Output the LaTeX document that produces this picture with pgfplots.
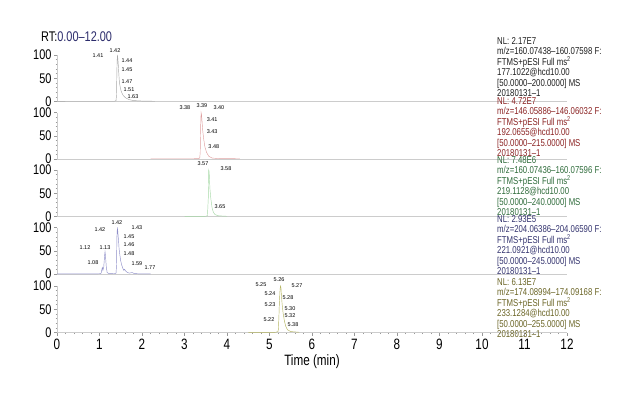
\documentclass[border=0pt]{standalone}
\usepackage{fontspec}
\setmainfont{Liberation Sans}[FakeStretch=0.78]
\newfontfamily\pkfont{Liberation Sans}
\usepackage{pgfplots}
\pgfplotsset{compat=1.18}
\definecolor{tA}{HTML}{1E1E1E}
\definecolor{tB}{HTML}{8B2323}
\definecolor{tC}{HTML}{2E6B3A}
\definecolor{tD}{HTML}{33336E}
\definecolor{tE}{HTML}{6B6526}
\definecolor{lA}{HTML}{A8A8A8}
\definecolor{lB}{HTML}{DFA0A0}
\definecolor{lC}{HTML}{A6D8A6}
\definecolor{lD}{HTML}{8E8EC8}
\definecolor{lE}{HTML}{B4B460}
\definecolor{rtblue}{HTML}{2B2B6B}
\tikzset{pk/.style={font=\pkfont\fontsize{5.5}{5.5}\selectfont, inner sep=0pt, text=black}}
\pgfplotsset{chrom/.style={
  scale only axis, width=510pt, height=46.5pt,
  xmin=0, xmax=12, ymin=0, ymax=100,
  axis x line*=bottom, axis y line*=left, clip=false,
  anchor=south west,
  ytick={0,50,100}, minor y tick num=4,
  xtick=\empty,
  axis line style={black!20, line width=0.6pt},
  tick style={black!40, line width=0.4pt},
  major tick length=3pt, minor tick length=1.5pt, tick align=outside,
  y tick label style={font=\fontsize{14}{14}\selectfont, xshift=1pt},
  /pgf/number format/assume math mode=true,
}}
\newcommand{\infoblock}[8]{%
  \path[every node/.style={anchor=base west, inner sep=0pt, text=#2, font=\fontsize{10}{10}\selectfont}]
    (497pt,#1) node {#3}
    (497pt,#1) node[yshift=-10.4pt] {#4}
    (497pt,#1) node[yshift=-20.8pt] {#5}
    (497pt,#1) node[yshift=-31.2pt] {#6}
    (497pt,#1) node[yshift=-41.6pt] {#7}
    (497pt,#1) node[yshift=-52pt] {#8};}
\begin{document}
\begin{tikzpicture}
\path[use as bounding box] (0,0) rectangle (630pt,-405pt);
\node[anchor=base west, inner sep=0pt, font=\fontsize{14}{14}\selectfont] at (41pt,-41pt) {RT:\textcolor{rtblue}{0.00--12.00}};

% Panel 1
\begin{axis}[chrom, at={(57pt,-101.5pt)}]
\addplot[lA, line width=0.45pt] coordinates {(0,0.3) (0.2,0.5) (1.0,0.5) (1.36,0.6) (1.39,2) (1.40,15) (1.41,70) (1.42,100) (1.43,94) (1.44,82) (1.45,66) (1.46,52) (1.47,40) (1.49,30) (1.51,22) (1.55,14) (1.60,9) (1.63,7) (1.70,4) (1.80,2) (2.0,1) (2.3,0.5)};
\node[pk] at (axis cs:1.365,108.7) {1.42};
\node[pk] at (axis cs:0.965,97.8) {1.41};
\node[pk] at (axis cs:1.647,87) {1.44};
\node[pk] at (axis cs:1.647,69.6) {1.45};
\node[pk] at (axis cs:1.647,43.5) {1.47};
\node[pk] at (axis cs:1.694,26) {1.51};
\node[pk] at (axis cs:1.788,10.9) {1.63};
\end{axis}

% Panel 2
\begin{axis}[chrom, at={(57pt,-159pt)}]
\addplot[lB, line width=0.45pt] coordinates {(2.2,0.5) (3.2,0.5) (3.34,1) (3.36,3) (3.37,15) (3.38,70) (3.39,100) (3.40,96) (3.41,84) (3.42,72) (3.43,60) (3.45,44) (3.48,26) (3.52,14) (3.57,6) (3.65,2) (3.8,1) (4.3,0.5)};
\node[pk] at (axis cs:3.41,115) {3.39};
\node[pk] at (axis cs:3.01,111) {3.38};
\node[pk] at (axis cs:3.81,111) {3.40};
\node[pk] at (axis cs:3.65,84.8) {3.41};
\node[pk] at (axis cs:3.65,58.7) {3.43};
\node[pk] at (axis cs:3.69,26) {3.48};
\end{axis}

% Panel 3
\begin{axis}[chrom, at={(57pt,-216.5pt)}]
\addplot[lC, line width=0.45pt] coordinates {(3.0,0.3) (3.50,0.5) (3.54,2) (3.56,40) (3.57,100) (3.58,96) (3.59,75) (3.60,58) (3.62,38) (3.65,18) (3.68,9) (3.72,4) (3.8,1.5) (4.0,0.5)};
\node[pk] at (axis cs:3.435,113) {3.57};
\node[pk] at (axis cs:3.976,104) {3.58};
\node[pk] at (axis cs:3.835,21.7) {3.65};
\end{axis}

% Panel 4
\begin{axis}[chrom, at={(57pt,-274pt)}]
\addplot[lD, line width=0.45pt] coordinates {(0,0.3) (1.0,0.5) (1.04,2) (1.06,12) (1.07,14) (1.08,8) (1.10,15) (1.12,40) (1.13,48) (1.14,40) (1.16,15) (1.18,3) (1.22,1) (1.35,0.5) (1.39,2) (1.40,20) (1.41,80) (1.42,100) (1.43,92) (1.44,80) (1.45,70) (1.46,55) (1.48,40) (1.50,28) (1.52,20) (1.55,12) (1.57,8) (1.59,10) (1.62,6) (1.66,3) (1.70,2) (1.77,3) (1.82,1) (1.9,0.5) (2.2,0.3)};
\node[pk] at (axis cs:1.41,111) {1.42};
\node[pk] at (axis cs:1.01,95.7) {1.42};
\node[pk] at (axis cs:1.88,100) {1.43};
\node[pk] at (axis cs:1.694,80.4) {1.45};
\node[pk] at (axis cs:1.694,63) {1.46};
\node[pk] at (axis cs:1.694,43.5) {1.48};
\node[pk] at (axis cs:0.659,56.5) {1.12};
\node[pk] at (axis cs:1.129,56.5) {1.13};
\node[pk] at (axis cs:0.847,23.9) {1.08};
\node[pk] at (axis cs:1.88,21.7) {1.59};
\node[pk] at (axis cs:2.188,13) {1.77};
\end{axis}

% Panel 5
\begin{axis}[chrom, at={(57pt,-332.5pt)},
  xtick={0,1,...,12}, minor x tick num=4,
  x tick label style={font=\fontsize{15}{15}\selectfont},
  xlabel={Time (min)}, xlabel style={font=\fontsize{15}{15}\selectfont, yshift=2pt}]
\addplot[lE, line width=0.45pt] coordinates {(4.5,0.3) (5.15,0.5) (5.20,2) (5.21,8) (5.22,30) (5.23,58) (5.24,78) (5.25,95) (5.26,100) (5.27,96) (5.28,80) (5.30,58) (5.32,42) (5.35,25) (5.38,14) (5.42,6) (5.5,2) (5.7,0.5)};
\node[pk] at (axis cs:5.224,113) {5.26};
\node[pk] at (axis cs:4.8,102) {5.25};
\node[pk] at (axis cs:5.647,100) {5.27};
\node[pk] at (axis cs:5.012,82.6) {5.24};
\node[pk] at (axis cs:5.435,76) {5.28};
\node[pk] at (axis cs:5.012,60.9) {5.23};
\node[pk] at (axis cs:5.482,52) {5.30};
\node[pk] at (axis cs:5.482,37) {5.32};
\node[pk] at (axis cs:4.988,28) {5.22};
\node[pk] at (axis cs:5.553,17.4) {5.38};
\end{axis}

\infoblock{-44.5pt}{tA}{NL: 2.17E7}{m/z=160.07438--160.07598 F:}{FTMS+pESI Full ms\textsuperscript{2}}{177.1022@hcd10.00}{[50.0000--200.0000] MS}{20180131--1}
\infoblock{-104.5pt}{tB}{NL: 4.72E7}{m/z=146.05886--146.06032 F:}{FTMS+pESI Full ms\textsuperscript{2}}{192.0655@hcd10.00}{[50.0000--215.0000] MS}{20180131--1}
\infoblock{-163.5pt}{tC}{NL: 7.48E6}{m/z=160.07436--160.07596 F:}{FTMS+pESI Full ms\textsuperscript{2}}{219.1128@hcd10.00}{[50.0000--240.0000] MS}{20180131--1}
\infoblock{-222.5pt}{tD}{NL: 2.93E5}{m/z=204.06386--204.06590 F:}{FTMS+pESI Full ms\textsuperscript{2}}{221.0921@hcd10.00}{[50.0000--245.0000] MS}{20180131--1}
\infoblock{-285.5pt}{tE}{NL: 6.13E7}{m/z=174.08994--174.09168 F:}{FTMS+pESI Full ms\textsuperscript{2}}{233.1284@hcd10.00}{[50.0000--255.0000] MS}{20180131--1}
\end{tikzpicture}
\end{document}
